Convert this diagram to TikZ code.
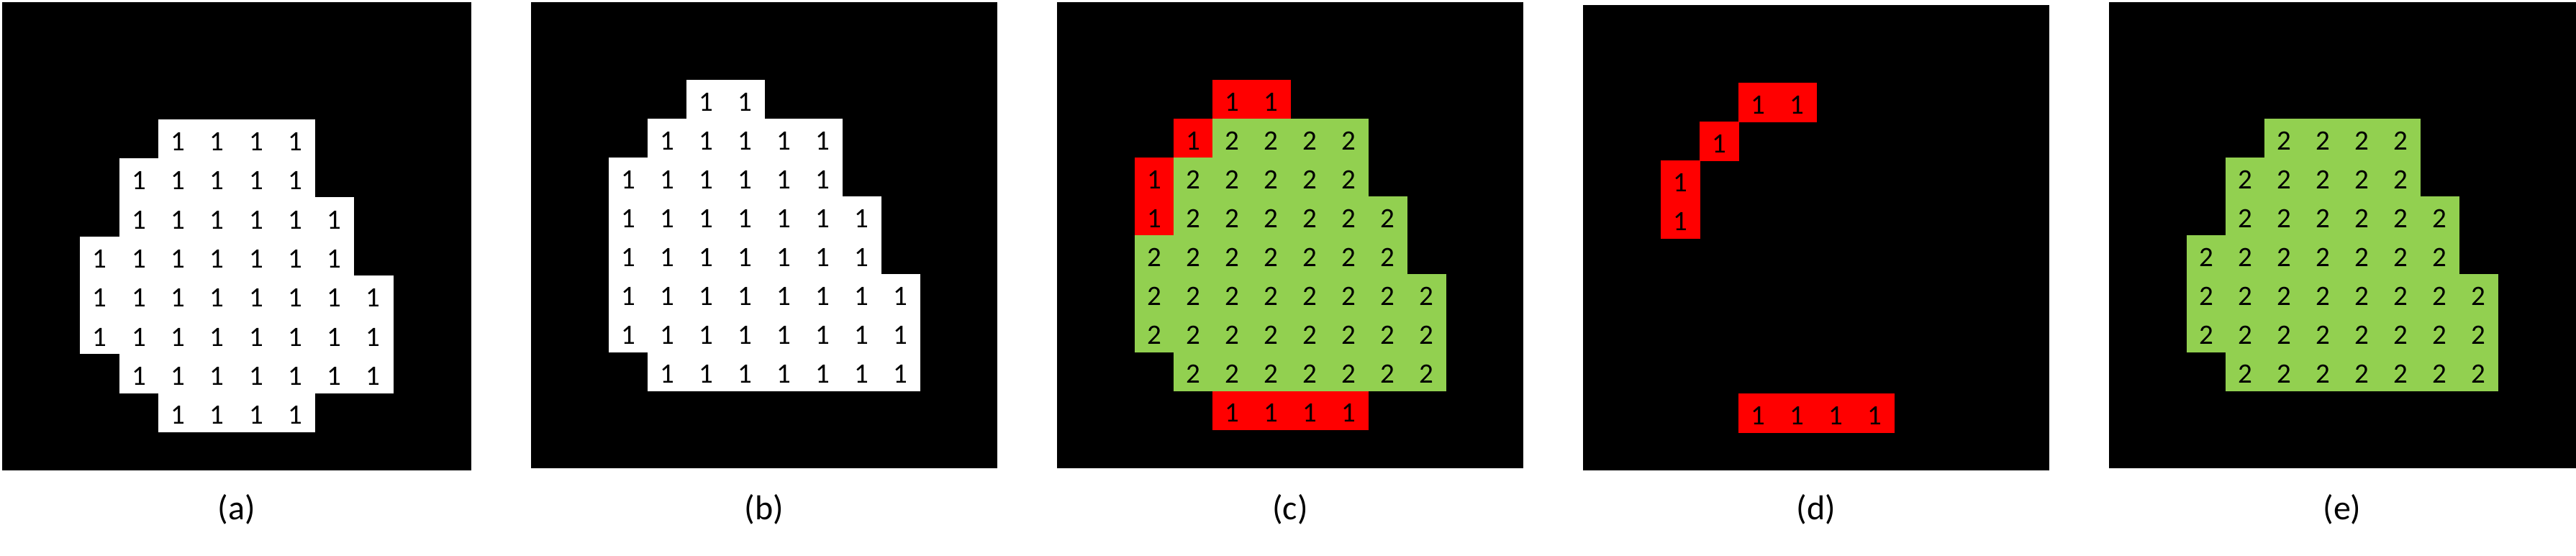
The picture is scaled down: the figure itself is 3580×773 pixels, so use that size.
\documentclass[tikz,border=0pt]{standalone}
\usepackage{fontspec}
\setmainfont{Carlito}
\definecolor{cgreen}{HTML}{92D050}
\definecolor{cred}{HTML}{FF0000}
\tikzset{
  digit/.style={inner sep=0pt, font=\fontsize{39}{39}\selectfont, text=black},
  sublabel/.style={inner sep=0pt, font=\fontsize{48}{48}\selectfont, text=black},
  panelbg/.style={fill=black}
}
% #1 x0, #2 y0, #3 cell size, #4 list row/firstcol/lastcol, #5 colour, #6 digit
\newcommand{\cellrows}[6]{%
  \foreach \r/\a/\b in {#4} {
    \fill[#5, draw=#5, line width=0.6pt] ({#1+\a*#3},{#2+\r*#3}) rectangle ({#1+(\b+1)*#3},{#2+(\r+1)*#3});
    \foreach \c in {\a,...,\b}
      \node[digit] at ({#1+(\c+0.5)*#3},{#2+(\r+0.5)*#3+4}) {#6};
  }
}
\begin{document}
\begin{tikzpicture}[x=1pt,y=-1pt]
\useasboundingbox (0,0) rectangle (3580,773);
\fill[white] (0,0) rectangle (3580,773);
% panels
\fill[panelbg] (3,3) rectangle (655,654);
\fill[panelbg] (738,3) rectangle (1386,651);
\fill[panelbg] (1469,3) rectangle (2117,651);
\fill[panelbg] (2200,7) rectangle (2848,654);
\fill[panelbg] (2931,3) rectangle (3580,651);
% (a)
\cellrows{3}{3}{54.3}{3/4/7,4/3/7,5/3/8,6/2/8,7/2/9,8/2/9,9/3/9,10/4/7}{white}{1}
% (b)
\cellrows{738}{3}{54}{2/4/5,3/3/7,4/2/7,5/2/8,6/2/8,7/2/9,8/2/9,9/3/9}{white}{1}
% (c)
\cellrows{1469}{3}{54}{2/4/5,3/3/3,4/2/2,5/2/2,10/4/7}{cred}{1}
\cellrows{1469}{3}{54}{3/4/7,4/3/7,5/3/8,6/2/8,7/2/9,8/2/9,9/3/9}{cgreen}{2}
% (d)
\cellrows{2200}{7}{54}{2/4/5,3/3/3,4/2/2,5/2/2,10/4/7}{cred}{1}
% (e)
\cellrows{2931}{3}{54}{3/4/7,4/3/7,5/3/8,6/2/8,7/2/9,8/2/9,9/3/9}{cgreen}{2}
% labels
\node[sublabel] (la) at (329,708) {(a)};
\node[sublabel] (lb) at (1062,708) {(b)};
\node[sublabel] (lc) at (1793,708) {(c)};
\node[sublabel] (ld) at (2524,708) {(d)};
\node[sublabel] (le) at (3255,708) {(e)};
\end{tikzpicture}
\end{document}
